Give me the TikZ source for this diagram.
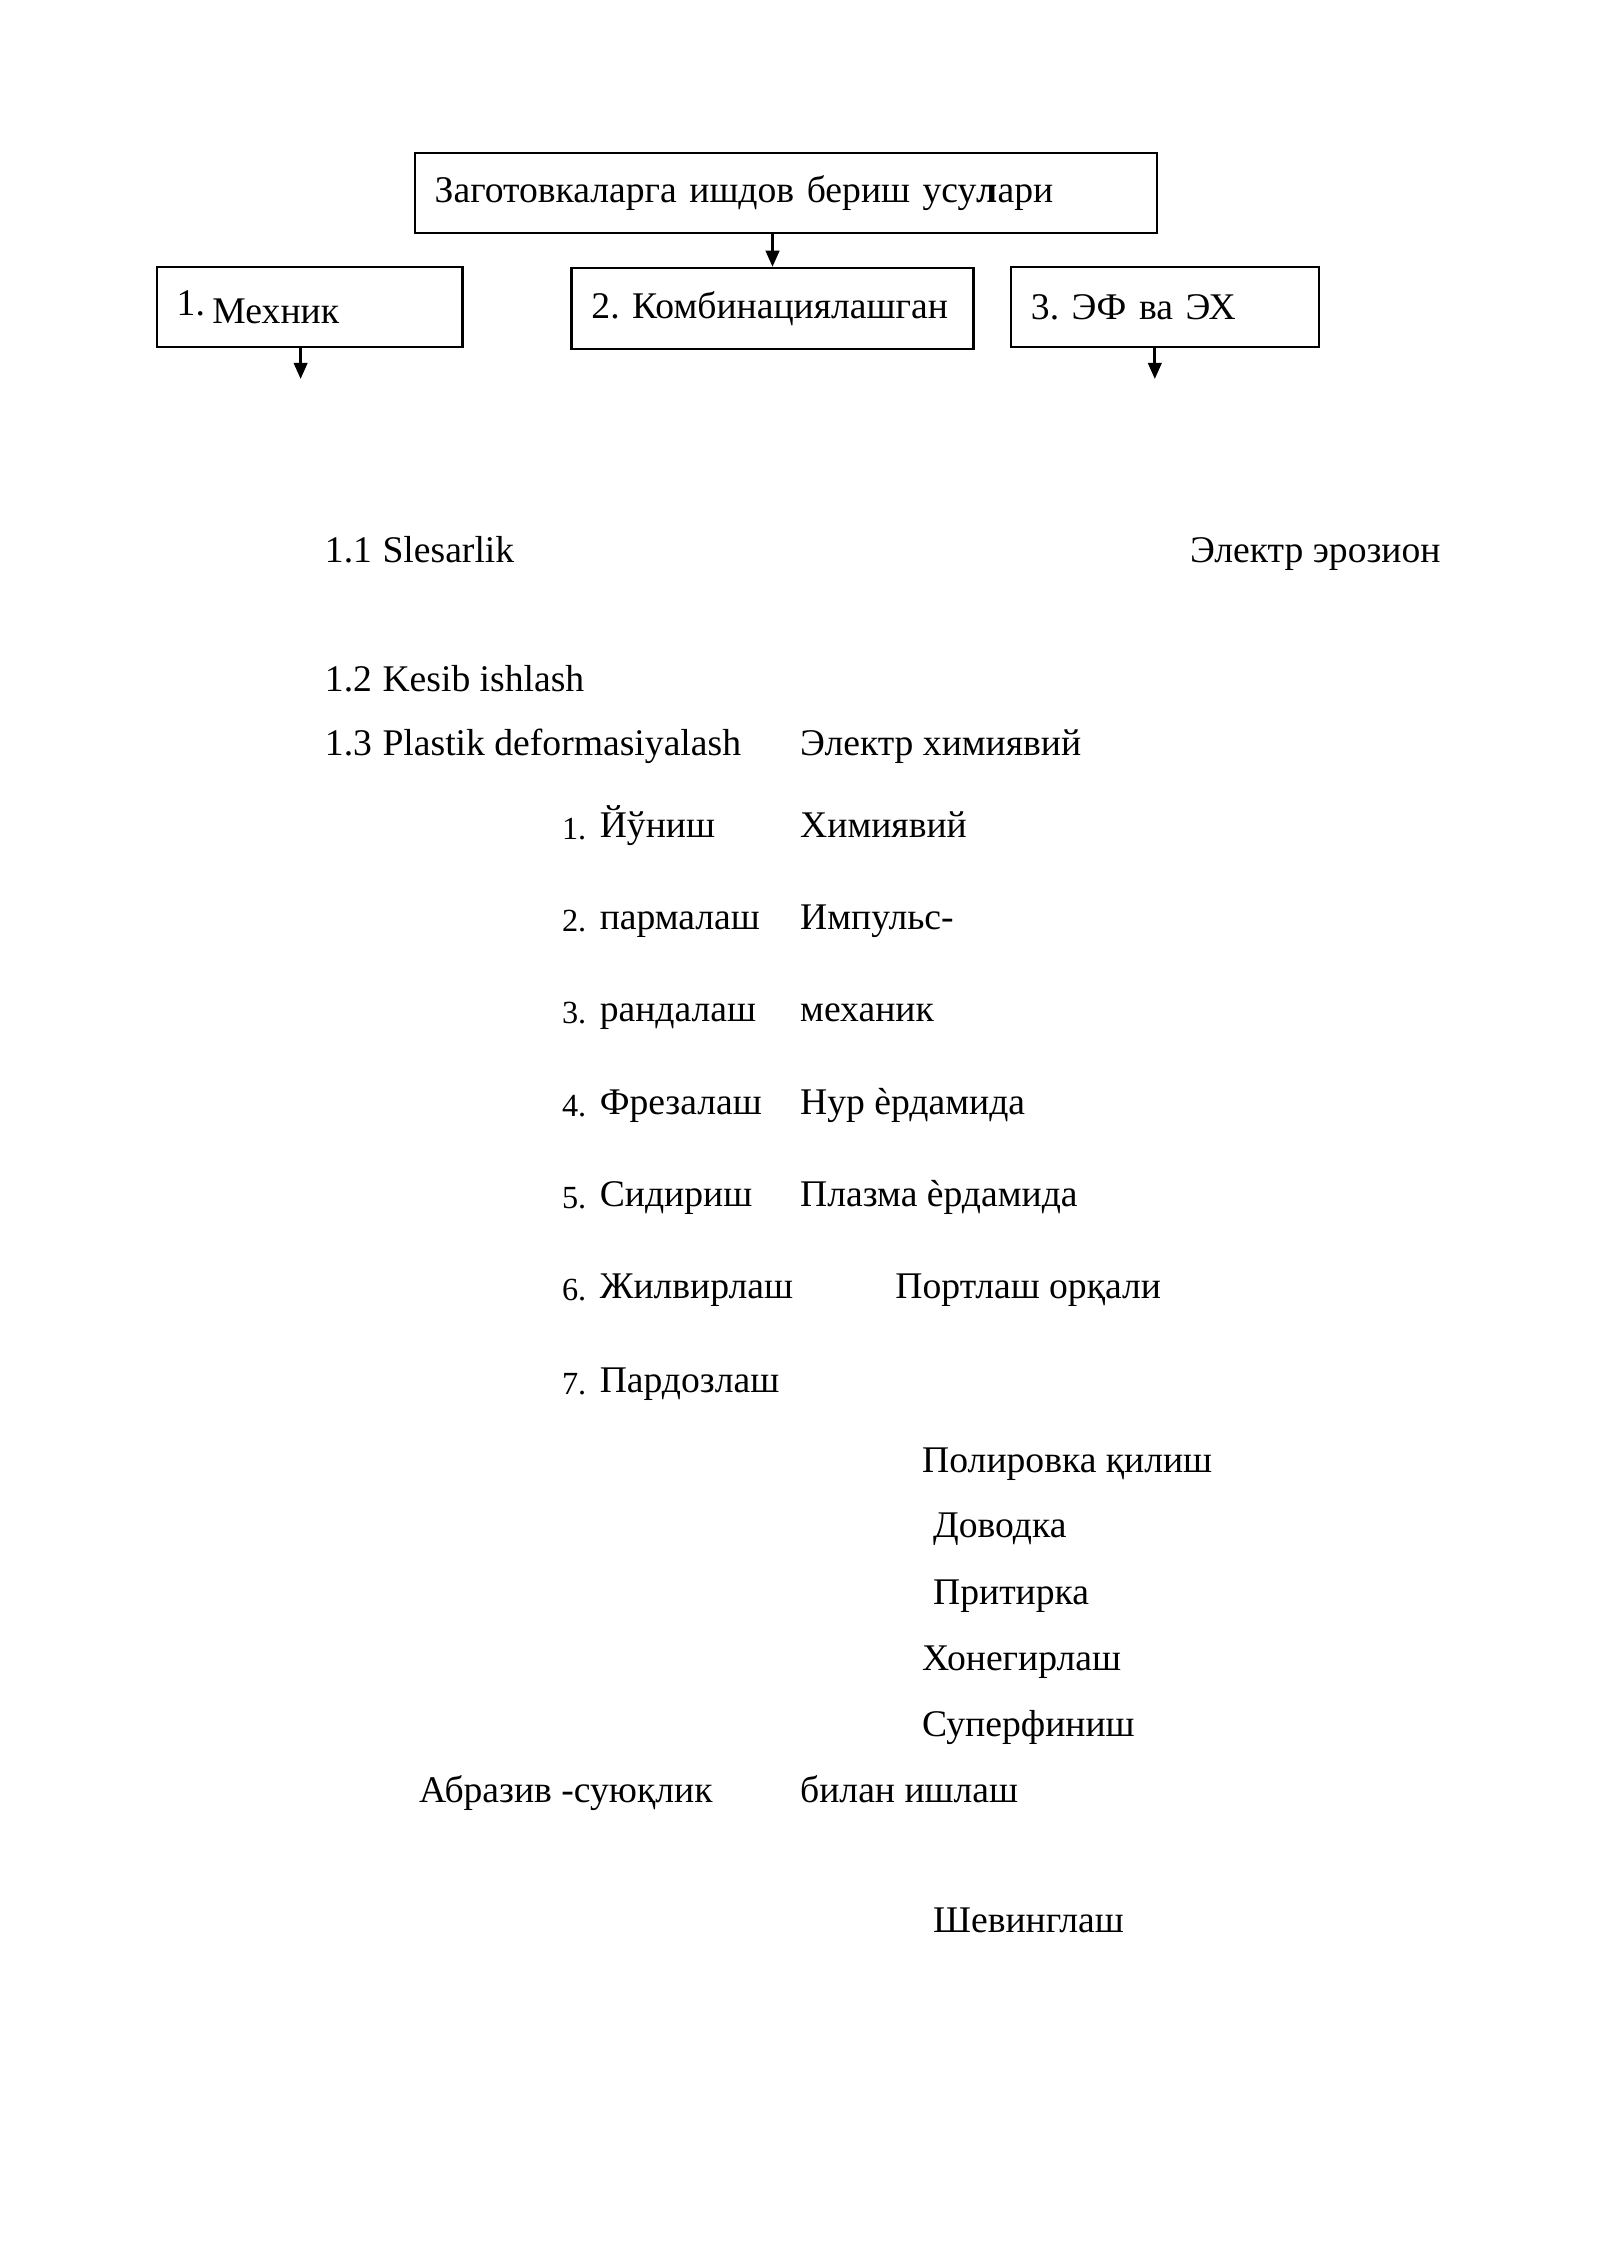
\documentclass[tikz,border=0pt]{standalone}
\usepackage{fontspec}
\setmainfont{Liberation Serif}
\usetikzlibrary{arrows.meta}
\frenchspacing
\begin{document}
\begin{tikzpicture}[x=0.369pt,y=-0.369pt,
  box/.style={draw,line width=0.8pt,inner xsep=7.4pt,inner ysep=0pt,align=left,anchor=north west,font=\fontsize{14}{16}\selectfont},
  txt/.style={anchor=base west,inner sep=0pt,font=\fontsize{14}{16}\selectfont},
  num/.style={anchor=base west,inner sep=0pt,font=\fontsize{12}{14}\selectfont},
  arr/.style={line width=1pt,-{Triangle[length=6pt,width=5pt]}}]
\useasboundingbox (0,0) rectangle (1613,2280);
% boxes
\node[box,text width=261.3pt,minimum height=29.9pt] (top) at (417,153) {\raisebox{-1pt}{Заготовкаларга ишдов бериш усу\textbf{л}ари}};
\node[box,text width=98.9pt,minimum height=29.9pt] (b1) at (157,268) {\raisebox{1.7pt}{1.}\hspace{0.2em}\raisebox{-1pt}{Мехник}};
\node[box,text width=134.7pt,minimum height=30.3pt] (b2) at (575,269) {\raisebox{-1pt}{2. Комбинациялашган}};
\node[box,text width=99.6pt,minimum height=29.9pt] (b3) at (1018,268) {\raisebox{-0.7pt}{3. ЭФ ва ЭХ}};
% connectors
\draw[arr] (b2.north |- top.south) -- (b2.north);
\coordinate (e1) at (303,382);
\coordinate (e3) at (1164,382);
\draw[arr] (e1 |- b1.south) -- (e1);
\draw[arr] (e3 |- b3.south) -- (e3);
% left column
\node[txt] (n11) at (327,567) {1.1};
\node[txt] (t11) at (385,567) {Slesarlik};
\node[txt] (ee) at (1199,567) {Электр эрозион};
\node[txt] (n12) at (327,697) {1.2};
\node[txt] (t12) at (385,697) {Kesib ishlash};
\node[txt] (n13) at (327,762) {1.3};
\node[txt] (t13) at (385,762) {Plastik deformasiyalash};
\node[txt] (eh) at (806,762) {Электр химиявий};
% numbered list
\node[num] (l1) at (566,846) {1.};
\node[txt] (i1) at (604,844) {Йўниш};
\node[txt] (r1) at (806,844) {Химиявий};
\node[num] (l2) at (566,939) {2.};
\node[txt] (i2) at (604,937) {пармалаш};
\node[txt] (r2) at (806,937) {Импульс-};
\node[num] (l3) at (566,1032) {3.};
\node[txt] (i3) at (604,1030) {рандалаш};
\node[txt] (r3) at (806,1030) {механик};
\node[num] (l4) at (566,1125) {4.};
\node[txt] (i4) at (604,1123) {Фрезалаш};
\node[txt] (r4) at (806,1123) {Нур ѐрдамида};
\node[num] (l5) at (566,1218) {5.};
\node[txt] (i5) at (604,1216) {Сидириш};
\node[txt] (r5) at (806,1216) {Плазма ѐрдамида};
\node[num] (l6) at (566,1311) {6.};
\node[txt] (i6) at (604,1309) {Жилвирлаш};
\node[txt] (r6) at (902,1309) {Портлаш орқали};
\node[num] (l7) at (566,1406) {7.};
\node[txt] (i7) at (604,1404) {Пардозлаш};
% finishing list
\node[txt] (p1) at (929,1484) {Полировка қилиш};
\node[txt] (p2) at (940,1550) {Доводка};
\node[txt] (p3) at (940,1617) {Притирка};
\node[txt] (p4) at (929,1684) {Хонегирлаш};
\node[txt] (p5) at (929,1750) {Суперфиниш};
\node[txt] (a1) at (422,1817) {Абразив -суюқлик};
\node[txt] (a2) at (806,1817) {билан ишлаш};
\node[txt] (sh) at (940,1948) {Шевинглаш};
\end{tikzpicture}
\end{document}
